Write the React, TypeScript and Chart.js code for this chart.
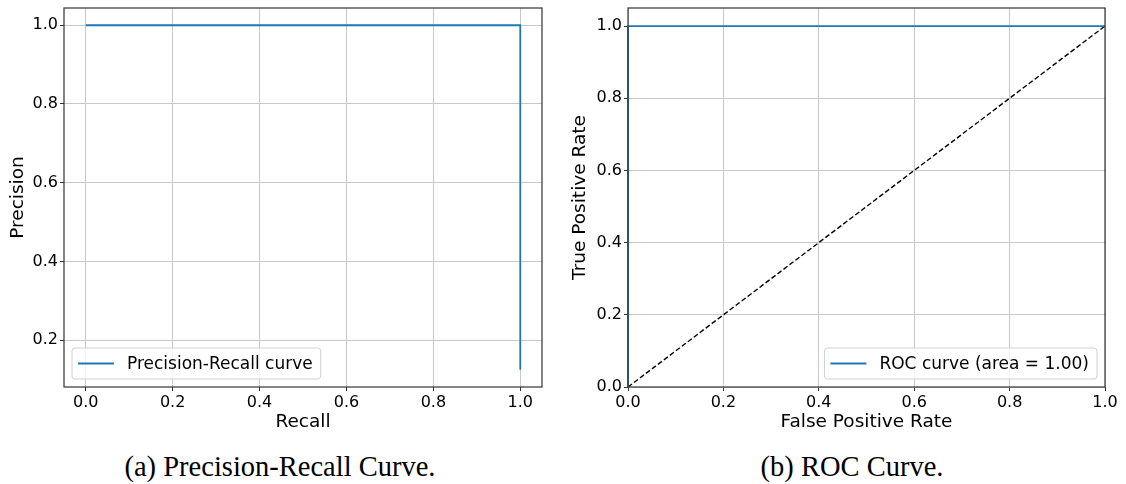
import React, { useEffect, useRef } from "react";
import { Chart, registerables } from "chart.js";

Chart.register(...registerables);

// ---------- data ----------
const prRecall = [1.0, 1.0, 0.0];
const prPrecision = [0.125, 1.0, 1.0];
const rocFpr = [0.0, 0.0, 1.0];
const rocTpr = [0.0, 1.0, 1.0];
const chanceX = [0.0, 1.0];
const chanceY = [0.0, 1.0];

const xTickValues = [0.0, 0.2, 0.4, 0.6, 0.8, 1.0];
const prYTickValues = [0.2, 0.4, 0.6, 0.8, 1.0];
const rocYTickValues = [0.0, 0.2, 0.4, 0.6, 0.8, 1.0];

const prLabel = "Precision-Recall curve";
const rocLabel = "ROC curve (area = 1.00)";
const captionA = "(a) Precision-Recall Curve.";
const captionB = "(b) ROC Curve.";

// ---------- style ----------
const SANS = "'DejaVu Sans', sans-serif";
const SERIF = "'Liberation Serif', 'Times New Roman', serif";
const BLUE = "#1f77b4";
const GRID = "#c8c8c8";
const SPINE = "#333333";

const toPts = (xs: number[], ys: number[]) => xs.map((x, i) => ({ x, y: ys[i] }));

const autoRange = (vals: number[]) => {
  const lo = Math.min(...vals);
  const hi = Math.max(...vals);
  const m = (hi - lo) * 0.05;
  return [lo - m, hi + m];
};

const framePlugin = {
  id: "frame",
  afterDatasetsDraw(chart: any) {
    const { ctx, chartArea: a } = chart;
    ctx.save();
    ctx.strokeStyle = SPINE;
    ctx.lineWidth = 1.2;
    ctx.strokeRect(a.left, a.top, a.right - a.left, a.bottom - a.top);
    ctx.restore();
  },
};

const legendPlugin = {
  id: "boxLegend",
  afterDraw(chart: any, _args: any, opts: any) {
    const { ctx, chartArea: a } = chart;
    const ds = chart.data.datasets[0];
    ctx.save();
    ctx.font = `17px ${SANS}`;
    const tw = ctx.measureText(ds.label).width;
    const w = 55 + tw + 8;
    const h = 31;
    const x = opts.corner === "right" ? a.right - 8 - w : a.left + 8;
    const y = a.bottom - 8 - h;
    const r = 3;
    ctx.beginPath();
    ctx.moveTo(x + r, y);
    ctx.arcTo(x + w, y, x + w, y + h, r);
    ctx.arcTo(x + w, y + h, x, y + h, r);
    ctx.arcTo(x, y + h, x, y, r);
    ctx.arcTo(x, y, x + w, y, r);
    ctx.closePath();
    ctx.fillStyle = "rgba(255,255,255,0.8)";
    ctx.fill();
    ctx.strokeStyle = "#d0d0d0";
    ctx.lineWidth = 1;
    ctx.stroke();
    const cy = y + h / 2;
    ctx.beginPath();
    ctx.moveTo(x + 6, cy);
    ctx.lineTo(x + 42, cy);
    ctx.strokeStyle = ds.borderColor;
    ctx.lineWidth = 1.8;
    ctx.stroke();
    ctx.fillStyle = "#000";
    ctx.textBaseline = "middle";
    ctx.textAlign = "left";
    ctx.fillText(ds.label, x + 55, cy + 1);
    ctx.restore();
  },
};

type Cfg = {
  datasets: any[];
  xRange: number[];
  yRange: number[];
  xTicks: number[];
  yTicks: number[];
  xTitle: string;
  yTitle: string;
  yAxisWidth: number;
  xAxisHeight: number;
  padRight: number;
  yTitlePad: number;
  corner: string;
};

function buildConfig(c: Cfg): any {
  const tickFont = { family: SANS, size: 16 };
  const titleFont = { family: SANS, size: 18.5 };
  return {
    type: "line",
    data: { datasets: c.datasets },
    plugins: [framePlugin, legendPlugin],
    options: {
      animation: false,
      responsive: false,
      layout: { padding: { left: 0, top: 8, right: c.padRight, bottom: 0 } },
      plugins: {
        legend: { display: false },
        tooltip: { enabled: false },
        boxLegend: { corner: c.corner },
      },
      scales: {
        x: {
          type: "linear",
          min: c.xRange[0],
          max: c.xRange[1],
          afterBuildTicks: (s: any) => {
            s.ticks = c.xTicks.map((v) => ({ value: v }));
          },
          afterFit: (s: any) => {
            s.height = c.xAxisHeight;
            s.paddingLeft = 0;
            s.paddingRight = 0;
          },
          ticks: {
            font: tickFont,
            color: "#000",
            padding: 2,
            maxRotation: 0,
            autoSkip: false,
            callback: (v: any) => Number(v).toFixed(1),
          },
          grid: { color: GRID, lineWidth: 1, tickLength: 4, tickColor: SPINE },
          border: { display: false },
          title: {
            display: true,
            text: c.xTitle,
            font: titleFont,
            color: "#000",
            padding: { top: 0, bottom: 7 },
          },
        },
        y: {
          type: "linear",
          min: c.yRange[0],
          max: c.yRange[1],
          afterBuildTicks: (s: any) => {
            s.ticks = c.yTicks.map((v) => ({ value: v }));
          },
          afterFit: (s: any) => {
            s.width = c.yAxisWidth;
            s.paddingTop = 0;
            s.paddingBottom = 0;
          },
          ticks: {
            font: tickFont,
            color: "#000",
            padding: 2,
            autoSkip: false,
            callback: (v: any) => Number(v).toFixed(1),
          },
          grid: { color: GRID, lineWidth: 1, tickLength: 4, tickColor: SPINE },
          border: { display: false },
          title: {
            display: true,
            text: c.yTitle,
            font: titleFont,
            color: "#000",
            padding: { top: c.yTitlePad, bottom: 0 },
          },
        },
      },
    },
  };
}

function ChartCanvas({ config, width, height, left }: any) {
  const ref = useRef<HTMLCanvasElement | null>(null);
  useEffect(() => {
    if (!ref.current) return;
    const chart = new Chart(ref.current, config);
    return () => chart.destroy();
  }, []);
  return (
    <canvas
      ref={ref}
      width={width}
      height={height}
      style={{ position: "absolute", left, top: 0, width, height }}
    />
  );
}

export default function App() {
  const prCfg = buildConfig({
    datasets: [
      {
        label: prLabel,
        data: toPts(prRecall, prPrecision),
        borderColor: BLUE,
        borderWidth: 1.8,
        pointRadius: 0,
        fill: false,
        tension: 0,
        clip: false,
      },
    ],
    xRange: autoRange(prRecall),
    yRange: autoRange(prPrecision),
    xTicks: xTickValues,
    yTicks: prYTickValues,
    xTitle: "Recall",
    yTitle: "Precision",
    yAxisWidth: 64,
    xAxisHeight: 53,
    padRight: 18,
    yTitlePad: 7,
    corner: "left",
  });

  const rocCfg = buildConfig({
    datasets: [
      {
        label: rocLabel,
        data: toPts(rocFpr, rocTpr),
        borderColor: BLUE,
        borderWidth: 1.8,
        pointRadius: 0,
        fill: false,
        tension: 0,
        clip: false,
      },
      {
        label: "chance",
        data: toPts(chanceX, chanceY),
        borderColor: "#000000",
        borderWidth: 1.4,
        borderDash: [5, 2.5],
        pointRadius: 0,
        fill: false,
        tension: 0,
        clip: false,
      },
    ],
    xRange: [0.0, 1.0],
    yRange: [0.0, 1.05],
    xTicks: xTickValues,
    yTicks: rocYTickValues,
    xTitle: "False Positive Rate",
    yTitle: "True Positive Rate",
    yAxisWidth: 68,
    xAxisHeight: 53,
    padRight: 21,
    yTitlePad: 9,
    corner: "right",
  });

  const capStyle: any = {
    position: "absolute",
    top: 453,
    fontFamily: SERIF,
    fontSize: 28.5,
    lineHeight: "28px",
    textAlign: "center",
    color: "#000",
    whiteSpace: "nowrap",
  };

  return (
    <div
      style={{
        position: "fixed",
        left: 0,
        top: 0,
        width: 1126,
        height: 484,
        background: "#fff",
        overflow: "hidden",
      }}
    >
      <ChartCanvas config={prCfg} width={560} height={440} left={0} />
      <ChartCanvas config={rocCfg} width={566} height={440} left={560} />
      <div style={{ ...capStyle, left: 80, width: 400 }}>{captionA}</div>
      <div style={{ ...capStyle, left: 652, width: 400 }}>{captionB}</div>
    </div>
  );
}
